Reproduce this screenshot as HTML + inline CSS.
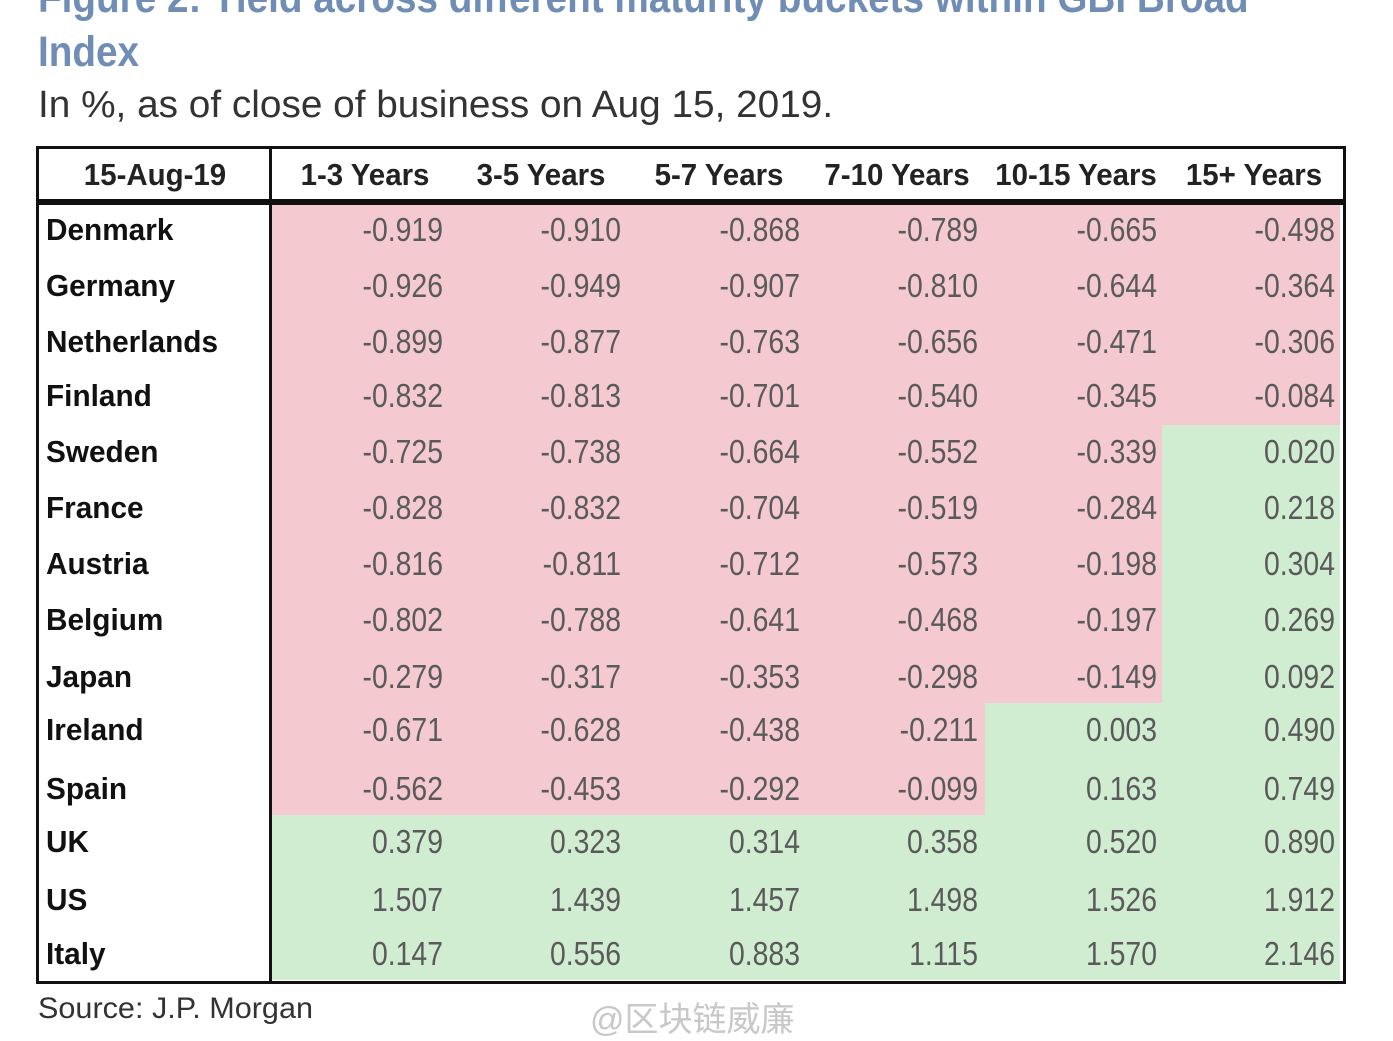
<!DOCTYPE html>
<html><head><meta charset="utf-8"><style>
body{margin:0;width:1393px;height:1020px;background:#fff;position:relative;overflow:hidden;font-family:"Liberation Sans",sans-serif}
.a{position:absolute;white-space:nowrap}
.t{color:#6f8db5;font-weight:bold;font-size:43px;transform:scaleX(0.9);transform-origin:left}
.sub{left:38px;top:84px;font-size:38px;color:#333;transform:scaleX(1.02);transform-origin:left}
.cell{position:absolute}
.p{background:#f4c9d0}.g{background:#d0edd1}
.n{position:absolute;font-size:33px;color:#5a5a5a;transform:scaleX(0.86);transform-origin:right;text-align:right;width:160px}
.c{position:absolute;left:46px;font-size:31px;font-weight:bold;color:#111;transform:scaleX(0.96);transform-origin:left}
.h{position:absolute;top:157px;font-size:31px;font-weight:bold;color:#222;transform:scaleX(0.95);text-align:center;width:178px}
.src{left:38px;top:992px;font-size:30px;color:#333;transform:scaleX(1.02);transform-origin:left}
.wm{left:590px;top:992px;font-size:34px;color:#c8c8c8;font-family:"Liberation Sans","Noto Sans CJK SC",sans-serif}
</style></head><body>
<div class="a t" style="left:38px;top:-26px">Figure 2: Yield across different maturity buckets within GBI Broad</div>
<div class="a t" style="left:38px;top:28px">Index</div>
<div class="a sub">In %, as of close of business on Aug 15, 2019.</div>

<div class="cell p" style="left:271px;top:204px;width:1069px;height:611px"></div>
<div class="cell g" style="left:271px;top:815px;width:1069px;height:165px"></div>
<div class="cell g" style="left:1162px;top:425px;width:178px;height:390px"></div>
<div class="cell g" style="left:985px;top:703px;width:177px;height:112px"></div>

<div class="cell" style="left:36px;top:146px;width:1304px;height:832px;border:3px solid #111"></div>
<div class="cell" style="left:36px;top:199px;width:1307px;height:6px;background:#111"></div>
<div class="cell" style="left:269px;top:146px;width:3px;height:835px;background:#111"></div>

<div class="h" style="left:66px">15-Aug-19</div>
<div class="h" style="left:276px">1-3 Years</div>
<div class="h" style="left:452px">3-5 Years</div>
<div class="h" style="left:630px">5-7 Years</div>
<div class="h" style="left:808px">7-10 Years</div>
<div class="h" style="left:987px">10-15 Years</div>
<div class="h" style="left:1165px">15+ Years</div>

<div class="c" style="top:212px">Denmark</div>
<div class="c" style="top:268px">Germany</div>
<div class="c" style="top:324px">Netherlands</div>
<div class="c" style="top:378px">Finland</div>
<div class="c" style="top:434px">Sweden</div>
<div class="c" style="top:490px">France</div>
<div class="c" style="top:546px">Austria</div>
<div class="c" style="top:602px">Belgium</div>
<div class="c" style="top:659px">Japan</div>
<div class="c" style="top:712px">Ireland</div>
<div class="c" style="top:771px">Spain</div>
<div class="c" style="top:824px">UK</div>
<div class="c" style="top:882px">US</div>
<div class="c" style="top:936px">Italy</div>

<div style="position:absolute;left:0;top:0">
<div class="n" style="left:283px;top:211px">-0.919</div><div class="n" style="left:461px;top:211px">-0.910</div><div class="n" style="left:640px;top:211px">-0.868</div><div class="n" style="left:818px;top:211px">-0.789</div><div class="n" style="left:997px;top:211px">-0.665</div><div class="n" style="left:1175px;top:211px">-0.498</div>
<div class="n" style="left:283px;top:267px">-0.926</div><div class="n" style="left:461px;top:267px">-0.949</div><div class="n" style="left:640px;top:267px">-0.907</div><div class="n" style="left:818px;top:267px">-0.810</div><div class="n" style="left:997px;top:267px">-0.644</div><div class="n" style="left:1175px;top:267px">-0.364</div>
<div class="n" style="left:283px;top:323px">-0.899</div><div class="n" style="left:461px;top:323px">-0.877</div><div class="n" style="left:640px;top:323px">-0.763</div><div class="n" style="left:818px;top:323px">-0.656</div><div class="n" style="left:997px;top:323px">-0.471</div><div class="n" style="left:1175px;top:323px">-0.306</div>
<div class="n" style="left:283px;top:377px">-0.832</div><div class="n" style="left:461px;top:377px">-0.813</div><div class="n" style="left:640px;top:377px">-0.701</div><div class="n" style="left:818px;top:377px">-0.540</div><div class="n" style="left:997px;top:377px">-0.345</div><div class="n" style="left:1175px;top:377px">-0.084</div>
<div class="n" style="left:283px;top:433px">-0.725</div><div class="n" style="left:461px;top:433px">-0.738</div><div class="n" style="left:640px;top:433px">-0.664</div><div class="n" style="left:818px;top:433px">-0.552</div><div class="n" style="left:997px;top:433px">-0.339</div><div class="n" style="left:1175px;top:433px">0.020</div>
<div class="n" style="left:283px;top:489px">-0.828</div><div class="n" style="left:461px;top:489px">-0.832</div><div class="n" style="left:640px;top:489px">-0.704</div><div class="n" style="left:818px;top:489px">-0.519</div><div class="n" style="left:997px;top:489px">-0.284</div><div class="n" style="left:1175px;top:489px">0.218</div>
<div class="n" style="left:283px;top:545px">-0.816</div><div class="n" style="left:461px;top:545px">-0.811</div><div class="n" style="left:640px;top:545px">-0.712</div><div class="n" style="left:818px;top:545px">-0.573</div><div class="n" style="left:997px;top:545px">-0.198</div><div class="n" style="left:1175px;top:545px">0.304</div>
<div class="n" style="left:283px;top:601px">-0.802</div><div class="n" style="left:461px;top:601px">-0.788</div><div class="n" style="left:640px;top:601px">-0.641</div><div class="n" style="left:818px;top:601px">-0.468</div><div class="n" style="left:997px;top:601px">-0.197</div><div class="n" style="left:1175px;top:601px">0.269</div>
<div class="n" style="left:283px;top:658px">-0.279</div><div class="n" style="left:461px;top:658px">-0.317</div><div class="n" style="left:640px;top:658px">-0.353</div><div class="n" style="left:818px;top:658px">-0.298</div><div class="n" style="left:997px;top:658px">-0.149</div><div class="n" style="left:1175px;top:658px">0.092</div>
<div class="n" style="left:283px;top:711px">-0.671</div><div class="n" style="left:461px;top:711px">-0.628</div><div class="n" style="left:640px;top:711px">-0.438</div><div class="n" style="left:818px;top:711px">-0.211</div><div class="n" style="left:997px;top:711px">0.003</div><div class="n" style="left:1175px;top:711px">0.490</div>
<div class="n" style="left:283px;top:770px">-0.562</div><div class="n" style="left:461px;top:770px">-0.453</div><div class="n" style="left:640px;top:770px">-0.292</div><div class="n" style="left:818px;top:770px">-0.099</div><div class="n" style="left:997px;top:770px">0.163</div><div class="n" style="left:1175px;top:770px">0.749</div>
<div class="n" style="left:283px;top:823px">0.379</div><div class="n" style="left:461px;top:823px">0.323</div><div class="n" style="left:640px;top:823px">0.314</div><div class="n" style="left:818px;top:823px">0.358</div><div class="n" style="left:997px;top:823px">0.520</div><div class="n" style="left:1175px;top:823px">0.890</div>
<div class="n" style="left:283px;top:881px">1.507</div><div class="n" style="left:461px;top:881px">1.439</div><div class="n" style="left:640px;top:881px">1.457</div><div class="n" style="left:818px;top:881px">1.498</div><div class="n" style="left:997px;top:881px">1.526</div><div class="n" style="left:1175px;top:881px">1.912</div>
<div class="n" style="left:283px;top:935px">0.147</div><div class="n" style="left:461px;top:935px">0.556</div><div class="n" style="left:640px;top:935px">0.883</div><div class="n" style="left:818px;top:935px">1.115</div><div class="n" style="left:997px;top:935px">1.570</div><div class="n" style="left:1175px;top:935px">2.146</div>
</div>

<div class="a src">Source: J.P. Morgan</div>
<div class="a wm">@区块链威廉</div>
</body></html>
